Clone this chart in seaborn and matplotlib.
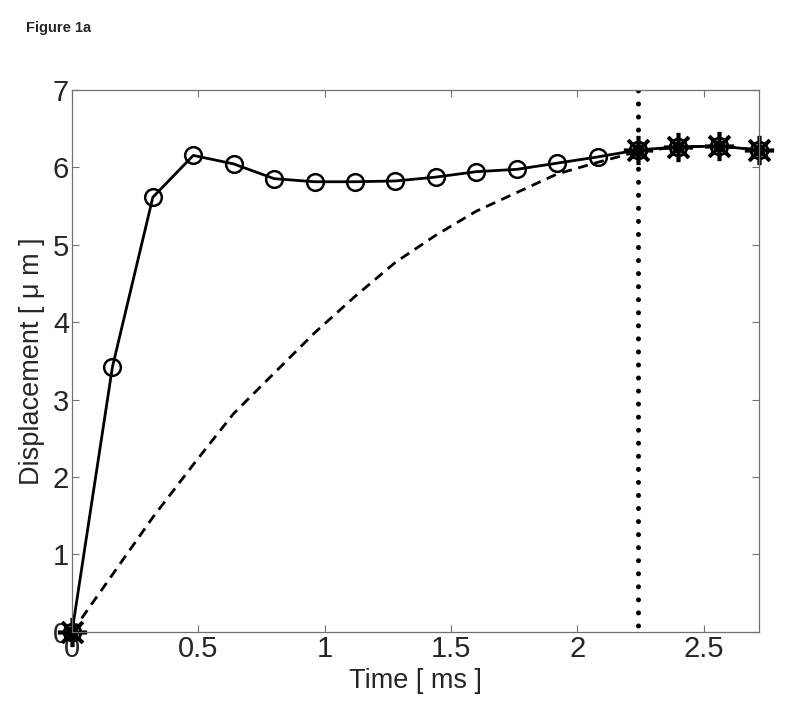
import numpy as np
import pandas as pd
import matplotlib
matplotlib.use('Agg')
import matplotlib.pyplot as plt
import seaborn as sns

# data (time step 0.16 ms)
time_ms = [0.00, 0.16, 0.32, 0.48, 0.64, 0.80, 0.96, 1.12, 1.28, 1.44,
           1.60, 1.76, 1.92, 2.08, 2.24, 2.40, 2.56, 2.72]
measured = [0.00, 3.42, 5.61, 6.15, 6.04, 5.85, 5.81, 5.81, 5.82, 5.87,
            5.94, 5.97, 6.05, 6.13, 6.22, 6.26, 6.27, 6.22]
model = [0.00, 0.74, 1.48, 2.16, 2.82, 3.34, 3.86, 4.33, 4.77, 5.12,
         5.43, 5.67, 5.91, 6.06, 6.20, 6.26, 6.27, 6.22]
star_time = [0.00, 2.24, 2.40, 2.56, 2.72]
star_disp = [0.00, 6.22, 6.26, 6.27, 6.22]
cutoff_time = 2.24

df = pd.DataFrame({'time': time_ms, 'measured': measured, 'model': model})
stars = pd.DataFrame({'time': star_time, 'disp': star_disp})

sns.set_style("ticks")
plt.rcParams['font.family'] = ['Liberation Sans', 'DejaVu Sans']
plt.rcParams['xtick.direction'] = 'in'
plt.rcParams['ytick.direction'] = 'in'

fig = plt.figure(figsize=(8, 7.18), dpi=100)
ax = fig.add_axes([0.09, 0.1198, 0.859, 0.7555])

# dashed model curve
sns.lineplot(data=df, x='time', y='model', ax=ax, color='k', lw=2,
             sort=False, errorbar=None)
ax.lines[-1].set_dashes((3.6, 2.4))

# measured curve with open circles
sns.lineplot(data=df, x='time', y='measured', ax=ax, color='k', lw=2,
             marker='o', markersize=12, markerfacecolor='none',
             markeredgecolor='k', markeredgewidth=1.8,
             sort=False, errorbar=None, clip_on=False)

# asterisks on top of circles
sns.lineplot(data=stars, x='time', y='disp', ax=ax, color='k',
             linestyle='none', marker=(8, 2, 0), markersize=21,
             markeredgewidth=2.6, markeredgecolor='k',
             sort=False, errorbar=None, clip_on=False)
sns.lineplot(data=stars, x='time', y='disp', ax=ax, color='k',
             linestyle='none', marker='o', markersize=12,
             markerfacecolor='none', markeredgecolor='k',
             markeredgewidth=1.8, sort=False, errorbar=None, clip_on=False)

# vertical dotted line
ax.axvline(cutoff_time, ymin=0, ymax=1, color='k', lw=3.6,
           linestyle=(-1.3, (0.01, 2.6)), dash_capstyle='round')

ax.set_xlim(0, 2.72)
ax.set_ylim(0, 7)
ax.set_xticks([0, 0.5, 1, 1.5, 2, 2.5])
ax.set_xticklabels(['0', '0.5', '1', '1.5', '2', '2.5'])
ax.set_yticks(range(0, 8))
ax.tick_params(axis='both', labelsize=21, top=True, right=True,
               color='#707070', length=5, width=0.8, pad=2)
for sp in ax.spines.values():
    sp.set_visible(True)
    sp.set_color('#707070')
    sp.set_linewidth(0.9)

ax.set_xlabel('Time [ ms ]', fontsize=19.5, labelpad=4)
ax.set_ylabel('Displacement [ μ m ]', fontsize=19.5, labelpad=6)

fig.text(0.0325, 0.955, 'Figure 1a', fontsize=10.5, fontweight='bold')

fig.savefig('out.png', dpi=100)
